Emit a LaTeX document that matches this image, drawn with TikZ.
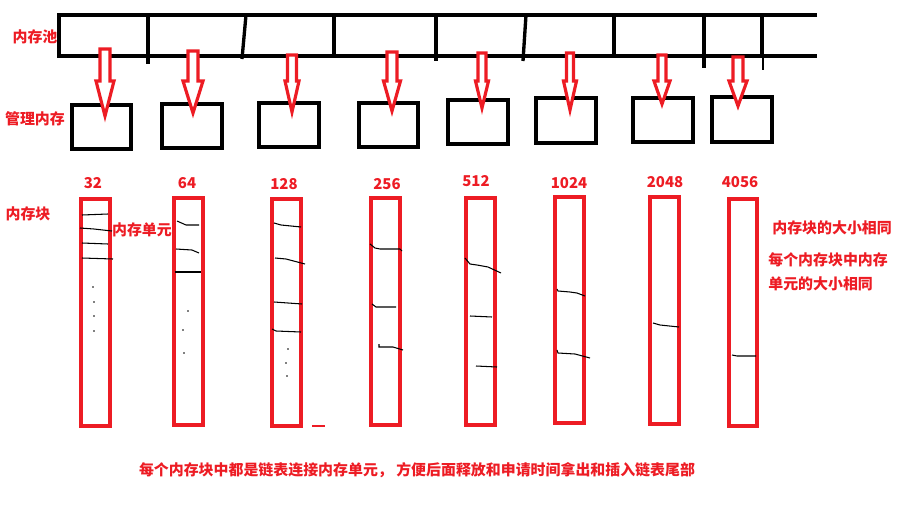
\documentclass[tikz,border=0pt]{standalone}
\usepackage{fontspec}
\setmainfont{Noto Sans CJK SC}
\definecolor{paintred}{RGB}{237,28,36}
\tikzset{
  pool/.style={line width=1.9pt},
  mgrbox/.style={line width=1.9pt},
  hollow/.style={draw=paintred, fill=white, line width=1.8pt},
  blockbar/.style={draw=paintred, line width=1.9pt},
  link/.style={line width=0.6pt},
  redtext/.style={text=paintred, font=\bfseries\fontsize{8.5}{10}\selectfont, inner sep=0pt},
}
\begin{document}
\begin{tikzpicture}[x=0.02cm,y=-0.02cm]
\useasboundingbox (0,0) rectangle (904,511);
% memory pool strip
\draw[pool] (817,15) -- (59,15) -- (59,56) -- (817,56);
\foreach \xa/\xb/\ye in {148/148/64, 246/242/59, 334/334/58, 436/436/61, 526/523/61, 614/614/58, 704/704/68, 762/762/56}
  \draw[pool] (\xa,15) -- (\xb,\ye);
\draw[link] (763,56) -- (763,70);
% management boxes
\foreach \xa/\ya/\xb/\yb in {72/105/131/149, 162/104/222/148, 259/103/319/147, 359/103/418/147, 448/100/508/144, 536/98/596/143, 633/98/693/142, 712/97/772/142}
  \draw[mgrbox] (\xa,\ya) rectangle (\xb,\yb);
% hollow arrows
\foreach \x/\t/\s/\h/\tip in {105/49/5/9/116, 193/51/5/10/113, 292/55/4.5/7/112, 392/52/5/8.5/111, 482/53/4/6.5/108, 570/53/3.5/6.5/110, 662/55/4/8/104, 738/57/5/9/106}
  \draw[hollow] (\x-\s,\t) -- (\x+\s,\t) -- (\x+\s,81) -- (\x+\h,81) -- (\x,\tip) -- (\x-\h,81) -- (\x-\s,81) -- cycle;
% memory blocks and their sizes
\foreach \xa/\ya/\xb/\yb/\lx/\ly/\n [count=\i] in {81/199/110/426/93/183/32, 174/198/203/425/187/183/64, 272/199/301/426/284/184/128, 371/198/400/425/387/184/256, 466/198/495/425/476/181/512, 555/197/584/423/569/183/1024, 650/197/679/424/665/182/2048, 729/199/757/426/740/182/4056}
{
  \draw[blockbar] (\xa,\ya) rectangle (\xb,\yb);
  \node[redtext] (size\i) at (\lx,\ly) {\n};
}
% unit links
\draw[link] (82,215) -- (108,214);
\draw[link] (80,228) -- (94,229) -- (112,231);
\draw[link] (82,243) -- (108,244);
\draw[link] (82,258) -- (113,259);
\draw[link] (177,221) -- (186,225) -- (199,225);
\draw[link] (176,249) -- (192,250) -- (199,253);
\draw[link] (175,272) -- (201,272);
\draw[link] (274,223) -- (281,225) -- (301,227);
\draw[link] (275,258) -- (286,259) -- (305,264);
\draw[link] (274,302) -- (302,304);
\draw[link] (272,329) -- (276,331) -- (301,332);
\draw[link] (370,244) -- (375,248) -- (380,249) -- (400,249) -- (402,251);
\draw[link] (372,304) -- (376,307) -- (396,307);
\draw[link] (379,344) -- (379,347) -- (393,347) -- (403,350);
\draw[link] (465,258) -- (470,264) -- (477,265) -- (488,267) -- (501,273);
\draw[link] (470,316) -- (492,317);
\draw[link] (476,366) -- (497,367);
\draw[link] (557,289) -- (558,291) -- (570,292) -- (577,293) -- (585,296);
\draw[link] (557,350) -- (558,353) -- (575,354) -- (590,358);
\draw[link] (653,323) -- (660,325) -- (679,327);
\draw[link] (732,355) -- (737,356) -- (756,356);
\foreach \p in {(93,287),(94,302),(94,316),(94,331),(188,311),(183,330),(184,353),(288,349),(286,363),(287,376)}
  \fill \p circle (0.8);
\draw[paintred, line width=0.6pt] (312,426) -- (325,426);
% labels
\node[redtext] (pooltag) at (35,37) {内存池};
\node[redtext] (mgrtag) at (35,119) {管理内存};
\node[redtext] (blocktag) at (28,214) {内存块};
\node[redtext] (unittag) at (142,230) {内存单元};
\node[redtext, anchor=west] (note1) at (772,228) {内存块的大小相同};
\node[redtext, anchor=west] (note2) at (768,260) {每个内存块中内存};
\node[redtext, anchor=west] (note3) at (768,284) {单元的大小相同};
\node[redtext] (summary) at (417,470) {每个内存块中都是链表连接内存单元， 方便后面释放和申请时间拿出和插入链表尾部};
\end{tikzpicture}
\end{document}
